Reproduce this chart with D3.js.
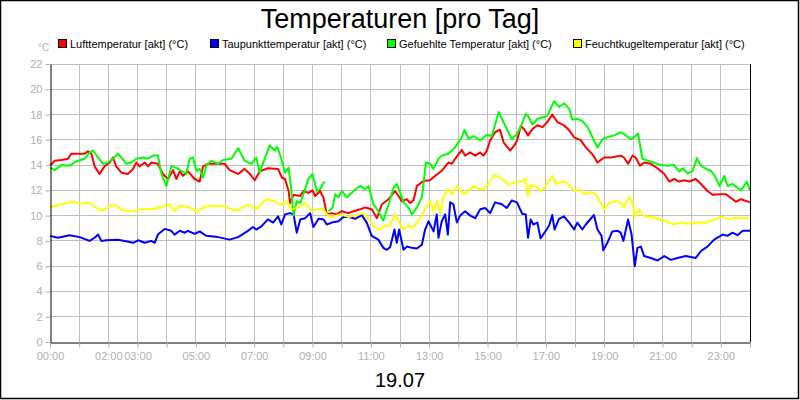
<!DOCTYPE html>
<html>
<head>
<meta charset="utf-8">
<script src="https://cdn.jsdelivr.net/npm/d3@7"></script>
<style>
  html, body { margin: 0; padding: 0; background: #fff; }
  svg { display: block; }
  text { font-family: Arial, 'Liberation Sans', sans-serif; }
</style>
</head>
<body>
<div id="chart"></div>
<script>
// Series: [hour of day, value in °C]; null = gap
const lufttemp = [[0,13.95],[0.16,14.35],[0.39,14.4],[0.62,14.5],[0.73,14.9],[0.96,14.9],[1.19,14.9],[1.3,15.1],[1.42,14.9],[1.53,13.9],[1.7,13.3],[1.87,13.9],[2.05,14.2],[2.16,14.6],[2.27,13.9],[2.45,13.4],[2.67,13.3],[2.85,13.7],[2.96,14.2],[3.07,13.9],[3.25,14.2],[3.36,13.9],[3.47,14.2],[3.7,14.1],[3.87,13.3],[4.05,12.9],[4.22,13.6],[4.33,12.9],[4.45,13.5],[4.56,13.15],[4.73,13.5],[4.96,12.9],[5.13,12.7],[5.25,13.9],[5.42,14.1],[5.76,14.1],[5.99,14.1],[6.16,13.6],[6.45,13.3],[6.67,13.7],[6.85,13.3],[7.02,12.8],[7.19,13.5],[7.47,13.75],[7.82,13.7],[7.95,13.0],[8.06,12.9],[8.18,11.95],[8.23,11.0],[8.35,11.65],[8.58,11.55],[8.69,11.95],[8.86,11.8],[9.0,12.0],[9.09,11.55],[9.26,11.95],[9.38,11.4],[9.49,10.1],[9.66,10.2],[9.83,10.1],[10.01,10.35],[10.23,10.2],[10.41,10.35],[10.63,10.5],[10.81,10.65],[11.03,10.5],[11.21,9.8],[11.38,10.9],[11.61,11.3],[11.83,11.95],[11.95,11.55],[12.06,11.15],[12.23,11.3],[12.35,11.0],[12.46,11.2],[12.58,12.35],[12.81,12.75],[13.03,12.8],[13.21,13.15],[13.43,13.55],[13.66,14.2],[13.78,14.1],[13.89,14.5],[14.12,15.2],[14.23,14.75],[14.41,15.0],[14.58,14.75],[14.75,15.0],[14.86,14.75],[14.98,15.15],[15.09,15.95],[15.26,16.6],[15.43,16.8],[15.55,15.8],[15.78,15.15],[15.95,15.65],[16.02,16.0],[16.14,17.1],[16.25,16.85],[16.39,16.35],[16.54,16.85],[16.71,17.15],[16.88,17.0],[17.05,17.4],[17.22,18.0],[17.4,17.4],[17.62,17.15],[17.8,16.75],[17.97,16.2],[18.2,15.95],[18.37,15.4],[18.6,14.85],[18.77,14.2],[19.0,14.6],[19.23,14.6],[19.57,14.75],[19.68,14.6],[19.82,14.1],[19.97,14.75],[20.08,14.6],[20.23,13.95],[20.37,14.2],[20.6,14.1],[20.83,13.75],[21.06,13.3],[21.23,12.7],[21.4,12.9],[21.57,12.7],[21.74,12.8],[21.92,12.7],[22.14,12.9],[22.32,12.5],[22.54,11.95],[22.72,11.65],[23.0,11.7],[23.17,11.7],[23.35,11.4],[23.52,11.1],[23.69,11.3],[24.0,11.05]];

const taupunkt = [[0,8.4],[0.27,8.25],[0.67,8.45],[1.02,8.3],[1.36,8.0],[1.53,8.25],[1.65,8.5],[1.76,8.0],[1.93,8.05],[2.33,8.1],[2.56,8.0],[2.85,7.85],[3.02,8.05],[3.25,7.85],[3.47,8.0],[3.59,7.85],[3.7,8.5],[3.93,8.95],[4.16,8.8],[4.27,8.5],[4.45,8.8],[4.62,8.65],[4.73,8.8],[4.96,8.55],[5.13,8.75],[5.36,8.4],[5.76,8.3],[6.16,8.1],[6.45,8.3],[6.79,8.8],[6.96,9.1],[7.07,8.9],[7.25,9.15],[7.47,9.7],[7.65,9.45],[7.82,9.95],[7.93,9.3],[8.06,10.1],[8.23,10.2],[8.35,10.1],[8.46,8.65],[8.58,9.7],[8.75,9.8],[8.92,10.2],[9.03,9.1],[9.21,9.75],[9.38,9.7],[9.49,9.3],[9.66,9.45],[9.89,9.55],[10.06,9.9],[10.23,9.9],[10.46,9.75],[10.69,10.05],[10.86,9.45],[11.03,8.4],[11.26,8.1],[11.43,7.45],[11.55,7.3],[11.66,7.5],[11.81,8.9],[11.89,7.85],[11.97,8.9],[12.12,7.3],[12.23,7.55],[12.41,7.45],[12.58,7.4],[12.75,7.7],[12.86,8.9],[12.98,9.55],[13.15,8.75],[13.26,10.1],[13.32,8.25],[13.43,9.55],[13.55,10.1],[13.64,8.5],[13.72,11.05],[13.83,10.9],[13.95,9.45],[14.06,10.0],[14.23,10.35],[14.41,10.0],[14.58,9.8],[14.75,10.5],[14.92,10.6],[15.09,10.2],[15.26,11.05],[15.49,10.9],[15.66,10.6],[15.83,11.2],[16.01,11.05],[16.19,10.15],[16.31,10.1],[16.39,8.25],[16.48,9.7],[16.57,9.3],[16.71,9.45],[16.82,8.2],[17.0,8.8],[17.11,9.2],[17.22,10.05],[17.3,8.9],[17.45,9.75],[17.62,9.95],[17.8,9.45],[17.97,8.9],[18.08,9.45],[18.25,8.9],[18.37,9.3],[18.65,10.05],[18.77,8.9],[18.91,8.4],[18.97,7.25],[19.11,7.85],[19.28,8.75],[19.46,8.8],[19.57,8.65],[19.66,8.0],[19.82,9.7],[19.94,8.5],[20.05,6.0],[20.14,7.45],[20.26,7.55],[20.37,6.8],[20.6,6.65],[20.83,6.45],[21.06,6.8],[21.29,6.5],[21.51,6.65],[21.8,6.8],[22.14,6.65],[22.32,7.2],[22.54,7.55],[22.77,8.1],[23.06,8.5],[23.23,8.4],[23.4,8.65],[23.57,8.45],[23.75,8.8],[24.0,8.8]];

const gefuehlt = [[0,13.8],[0.16,13.6],[0.39,14.0],[0.67,13.95],[0.96,14.35],[1.19,14.5],[1.36,15.0],[1.47,15.15],[1.65,14.6],[1.82,14.1],[1.99,14.2],[2.16,14.5],[2.33,14.9],[2.45,14.6],[2.62,14.1],[2.79,14.2],[2.96,14.5],[3.19,14.6],[3.36,14.5],[3.53,14.75],[3.7,14.75],[3.82,13.3],[3.99,12.35],[4.16,13.9],[4.33,13.8],[4.5,13.55],[4.67,13.3],[4.79,14.5],[4.9,14.6],[5.02,13.55],[5.13,13.7],[5.25,13.0],[5.36,13.95],[5.53,14.35],[5.76,14.1],[5.93,14.4],[6.22,14.5],[6.45,15.35],[6.67,14.35],[6.9,14.1],[7.07,14.6],[7.19,13.4],[7.36,14.5],[7.53,15.55],[7.7,15.15],[7.79,15.45],[7.93,14.5],[8.06,13.4],[8.18,13.8],[8.27,12.1],[8.35,10.0],[8.46,11.15],[8.58,11.0],[8.69,11.7],[8.86,12.9],[9.0,13.3],[9.15,11.95],[9.26,12.1],[9.41,12.7],[9.48,null],[9.55,10.35],[9.69,10.65],[9.78,11.7],[9.89,11.45],[10.01,11.95],[10.18,11.45],[10.41,11.95],[10.63,12.35],[10.81,12.1],[10.92,12.35],[11.09,10.9],[11.26,10.35],[11.43,9.6],[11.61,10.9],[11.78,12.2],[11.89,12.5],[12.01,11.8],[12.12,11.05],[12.29,10.65],[12.41,10.1],[12.58,10.65],[12.75,11.45],[12.89,14.2],[13.03,14.1],[13.15,13.7],[13.32,14.5],[13.43,14.75],[13.66,14.9],[13.89,15.4],[14.12,16.2],[14.21,16.8],[14.35,16.05],[14.52,16.3],[14.75,15.95],[14.98,16.4],[15.15,16.3],[15.38,18.2],[15.55,17.4],[15.83,16.05],[16.01,16.45],[16.15,17.1],[16.31,18.05],[16.42,17.8],[16.54,17.2],[16.71,17.65],[16.94,17.8],[17.05,17.9],[17.28,19.05],[17.45,18.6],[17.62,18.9],[17.8,18.45],[17.91,17.6],[18.08,17.65],[18.25,17.5],[18.43,17.0],[18.6,16.2],[18.77,15.4],[18.94,16.05],[19.11,16.2],[19.34,16.35],[19.57,16.6],[19.74,16.35],[19.91,16.05],[20.03,16.2],[20.16,16.5],[20.31,14.5],[20.49,14.35],[20.71,14.2],[20.94,14.0],[21.17,13.95],[21.4,14.0],[21.57,13.5],[21.69,13.75],[21.86,13.35],[22.03,13.5],[22.18,14.55],[22.32,13.95],[22.49,13.7],[22.66,13.55],[22.83,13.0],[22.95,12.35],[23.12,13.15],[23.23,12.35],[23.4,12.5],[23.52,12.3],[23.69,12.0],[23.9,12.7],[24.0,11.95]];

const feuchtkugel = [[0,10.65],[0.39,10.9],[0.79,11.1],[1.07,10.95],[1.36,11.0],[1.65,10.5],[1.82,10.4],[2.1,10.85],[2.27,10.8],[2.5,10.4],[2.85,10.3],[3.07,10.5],[3.47,10.5],[3.76,10.65],[4.1,10.9],[4.27,10.35],[4.45,10.8],[4.79,10.65],[5.02,10.3],[5.3,10.7],[5.65,10.8],[5.99,10.7],[6.39,10.4],[6.62,10.7],[6.9,10.85],[7.07,10.5],[7.42,11.3],[7.76,11.1],[7.93,10.85],[8.12,11.15],[8.29,10.5],[8.52,10.65],[8.75,11.0],[8.98,10.35],[9.15,10.5],[9.38,10.5],[9.49,10.1],[9.66,9.9],[9.95,10.1],[10.23,9.9],[10.52,10.05],[10.75,10.2],[10.92,9.7],[11.09,9.2],[11.26,8.9],[11.49,9.2],[11.66,9.2],[11.83,10.1],[11.95,9.6],[12.12,8.9],[12.29,9.2],[12.46,9.1],[12.63,9.6],[12.86,10.5],[13.03,11.15],[13.15,10.35],[13.26,11.15],[13.38,10.2],[13.49,11.45],[13.66,12.1],[13.78,11.7],[13.95,12.35],[14.18,11.7],[14.35,11.95],[14.52,12.35],[14.69,12.1],[14.86,12.1],[15.03,12.5],[15.26,13.25],[15.49,12.9],[15.72,12.45],[15.95,12.65],[16.14,12.7],[16.31,12.9],[16.39,11.55],[16.48,12.45],[16.65,12.35],[16.82,11.95],[17.0,12.35],[17.22,13.15],[17.34,12.5],[17.62,12.7],[17.8,12.45],[17.97,11.95],[18.14,12.1],[18.31,11.7],[18.54,11.85],[18.71,11.7],[18.88,11.0],[19.0,10.5],[19.17,11.0],[19.4,11.15],[19.57,11.0],[19.68,10.65],[19.86,11.5],[19.97,11.0],[20.05,9.9],[20.2,10.5],[20.37,9.95],[20.71,9.85],[21.06,9.6],[21.4,9.3],[21.63,9.45],[21.86,9.35],[22.2,9.45],[22.49,9.45],[22.77,9.7],[23.06,9.9],[23.29,9.7],[23.52,9.85],[23.8,9.8],[24.0,9.8]];

const seriesNames = ['Lufttemperatur [akt] (°C)', 'Taupunkttemperatur [akt] (°C)', 'Gefuehlte Temperatur [akt] (°C)', 'Feuchtkugeltemperatur [akt] (°C)'];
const seriesColors = ['#ff0000', '#0000ff', '#00ff00', '#ffff00'];
const legendX = [58, 210, 387, 573];
const yTicks = [0, 2, 4, 6, 8, 10, 12, 14, 16, 18, 20, 22];
const xTickHours = d3.range(0, 25);
const xLabelHours = [0, 2, 3, 5, 7, 9, 11, 13, 15, 17, 19, 21, 23];

const W = 800, H = 400;
const plot = { left: 50, right: 750, top: 64, bottom: 342 };
const gridColor = '#c0c0c0';
const labelColor = '#b0b0b0';

const svg = d3.select('#chart').append('svg')
  .attr('width', W).attr('height', H);

svg.append('rect')
  .attr('x', 0.5).attr('y', 0.5).attr('width', W - 2).attr('height', H - 2)
  .attr('fill', '#fff').attr('stroke', '#000').attr('stroke-width', 1.5);

const x = d3.scaleLinear().domain([0, 24]).range([plot.left, plot.right]);
const y = d3.scaleLinear().domain([0, 22]).range([plot.bottom, plot.top]);

// Title
svg.append('text')
  .attr('x', 400).attr('y', 28)
  .attr('text-anchor', 'middle')
  .attr('font-size', '27px')
  .attr('fill', '#000')
  .text('Temperaturen [pro Tag]');

// Unit label
svg.append('text')
  .attr('x', 38).attr('y', 51)
  .attr('font-size', '10px')
  .attr('fill', labelColor)
  .text('°C');

// Legend
const legend = svg.append('g');
seriesNames.forEach((name, i) => {
  legend.append('rect')
    .attr('x', legendX[i] + 0.5).attr('y', 39.5)
    .attr('width', 8).attr('height', 8)
    .attr('fill', seriesColors[i]).attr('stroke', '#000').attr('stroke-width', 1);
  legend.append('text')
    .attr('x', legendX[i] + 12).attr('y', 48)
    .attr('font-size', '11px')
    .attr('fill', '#000')
    .text(name);
});

// Grid
const grid = svg.append('g').attr('shape-rendering', 'crispEdges');
grid.selectAll('line.h')
  .data(yTicks.filter(d => d > 0))
  .enter().append('line')
  .attr('x1', plot.left).attr('x2', plot.right)
  .attr('y1', d => y(d)).attr('y2', d => y(d))
  .attr('stroke', gridColor).attr('stroke-width', 1);
grid.selectAll('line.v')
  .data(xTickHours.filter(d => d > 0 && d < 24))
  .enter().append('line')
  .attr('x1', d => x(d)).attr('x2', d => x(d))
  .attr('y1', plot.top).attr('y2', plot.bottom)
  .attr('stroke', gridColor).attr('stroke-width', 1);

// Lines
const line = d3.line()
  .defined(d => d[1] != null)
  .x(d => x(d[0]))
  .y(d => y(d[1]));

const lines = svg.append('g');
[lufttemp, taupunkt, gefuehlt, feuchtkugel].forEach((data, i) => {
  lines.append('path')
    .datum(data)
    .attr('fill', 'none')
    .attr('stroke', seriesColors[i])
    .attr('stroke-width', 2)
    .attr('stroke-linejoin', 'round')
    .attr('d', line);
});

// Right frame
svg.append('line')
  .attr('x1', plot.right + 0.5).attr('x2', plot.right + 0.5)
  .attr('y1', plot.top).attr('y2', plot.bottom)
  .attr('stroke', '#000');

// Axes
const xAxis = svg.append('g')
  .attr('transform', `translate(0,${plot.bottom + 0.5})`)
  .call(d3.axisBottom(x)
    .tickValues(xTickHours)
    .tickSize(5)
    .tickSizeOuter(0)
    .tickFormat(d => xLabelHours.includes(d) ? String(d).padStart(2, '0') + ':00' : ''));
xAxis.select('.domain').attr('stroke', '#000');
xAxis.selectAll('.tick line').attr('stroke', labelColor);
xAxis.selectAll('.tick text')
  .attr('fill', labelColor)
  .attr('font-size', '11px')
  .attr('font-family', "Arial, 'Liberation Sans', sans-serif")
  .attr('dy', '0.9em');

const yAxis = svg.append('g')
  .attr('transform', `translate(${plot.left + 0.5},0)`)
  .call(d3.axisLeft(y)
    .tickValues(yTicks)
    .tickSize(5)
    .tickSizeOuter(0));
yAxis.select('.domain').attr('stroke', '#000');
yAxis.selectAll('.tick line').attr('stroke', labelColor);
yAxis.selectAll('.tick text')
  .attr('fill', labelColor)
  .attr('font-size', '11px')
  .attr('font-family', "Arial, 'Liberation Sans', sans-serif")
  .attr('x', -8);

// Date label
svg.append('text')
  .attr('x', 400).attr('y', 387)
  .attr('text-anchor', 'middle')
  .attr('font-size', '20px')
  .attr('fill', '#000')
  .text('19.07');
</script>
</body>
</html>
